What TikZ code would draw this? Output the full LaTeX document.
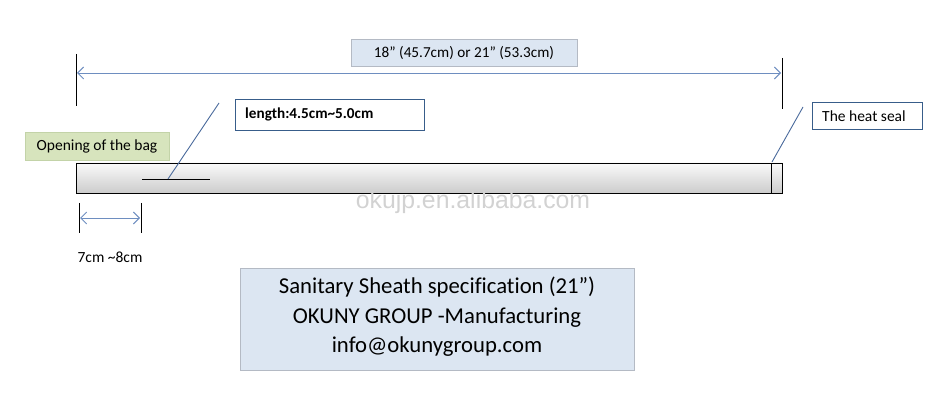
\documentclass[tikz,border=0pt]{standalone}
\usepackage{fontspec}
\setmainfont{Carlito}[Ligatures={TeX,NoCommon}]
\newfontfamily\wmfont{Liberation Sans}
\usetikzlibrary{arrows.meta}
\definecolor{dimblue}{HTML}{6E8EC0}
\definecolor{callblue}{HTML}{4A6A9C}
\definecolor{boxblue}{HTML}{DCE6F2}
\definecolor{boxgray}{HTML}{B4BAC4}
\definecolor{navyedge}{HTML}{385D8A}
\definecolor{olivefill}{HTML}{D7E4BD}
\definecolor{oliveedge}{HTML}{C3D3A8}
\newcommand{\sq}{\symbol{34}}
\tikzset{
  dimline/.style={draw=dimblue, line width=0.9pt, {Straight Barb[length=6pt,width=12pt]}-{Straight Barb[length=6pt,width=12pt]}},
  tick/.style={draw=black, line width=0.9pt},
  callout/.style={draw=callblue, line width=0.9pt},
  infobox/.style={draw=boxgray, fill=boxblue, line width=0.8pt, inner sep=0pt, align=center},
  whitebox/.style={draw=navyedge, fill=white, line width=0.8pt, inner sep=0pt},
  greenbox/.style={draw=oliveedge, fill=olivefill, line width=0.8pt, inner sep=0pt},
  smalltext/.style={font=\fontsize{15.5}{18}\selectfont, inner sep=0pt},
}
\begin{document}
\begin{tikzpicture}[x=1pt,y=-1pt]
\useasboundingbox (0,0) rectangle (944,403);
% top dimension
\coordinate (tl1) at (76,54); \coordinate (tl2) at (76,106);
\coordinate (tr1) at (782,58); \coordinate (tr2) at (782,109);
\draw[tick] (tl1) -- (tl2);
\draw[tick] (tr1) -- (tr2);
\coordinate (da) at (77,73); \coordinate (db) at (781,73);
\draw[dimline] (da) -- (db);
\node[infobox, minimum width=226pt, minimum height=27pt, font=\fontsize{15.2}{17}\selectfont] (top) at (464,52.5) {18\sq{} (45.7cm) or 21\sq{} (53.3cm)};
% bar
\shade[top color=gray!4, bottom color=gray!40] (76,163) rectangle (782,193);
\node[draw=black, line width=0.9pt, minimum width=706pt, minimum height=30pt, inner sep=0pt] (bar) at (429,178) {};
\coordinate (sealtop) at (771,163); \coordinate (sealbot) at (771,193);
\draw[tick] (sealtop) -- (sealbot);
% length label
\node[whitebox, minimum width=189pt, minimum height=31pt, anchor=north west] (len) at (235,99) {};
\node[anchor=west, smalltext, font=\fontsize{15.2}{18}\selectfont\bfseries] (lentext) at (245,114) {length:4.5cm\textasciitilde 5.0cm};
\coordinate (ls1) at (142,179); \coordinate (ls2) at (210,179);
\draw[tick] (ls1) -- (ls2);
\coordinate (lc1) at (219,103); \coordinate (lc2) at (168,179);
\draw[callout] (lc1) -- (lc2);
% opening of the bag
\node[greenbox, minimum width=144pt, minimum height=28pt, anchor=north west] (open) at (25,132) {};
\node[smalltext] (opentext) at (97,146) {Opening of the bag};
% heat seal
\node[whitebox, minimum width=110pt, minimum height=27pt, anchor=north west] (seal) at (812,102) {};
\node[anchor=west, smalltext] (sealtext) at (822,116) {The heat seal};
\coordinate (hc1) at (803,107); \coordinate (hc2) at (772,162);
\draw[callout] (hc1) -- (hc2);
% watermark
\node[text=gray!35, font=\wmfont\fontsize{24.8}{27}\selectfont] (wm) at (473,202) {okujp.en.alibaba.com};
% small dimension
\coordinate (sa1) at (79,203); \coordinate (sa2) at (79,233);
\coordinate (sb1) at (141,203); \coordinate (sb2) at (141,233);
\draw[tick] (sa1) -- (sa2);
\draw[tick] (sb1) -- (sb2);
\coordinate (sd1) at (80,218); \coordinate (sd2) at (140,218);
\draw[dimline] (sd1) -- (sd2);
\node[smalltext] (small) at (110,257) {7cm \textasciitilde 8cm};
% bottom box
\node[infobox, minimum width=394pt, minimum height=102pt, anchor=north west] (spec) at (240,268) {};
\node[font=\fontsize{22.7}{29.5}\selectfont, align=center, inner sep=0pt] (spectext) at (437,317) {Sanitary Sheath specification (21”)\\OKUNY GROUP -Manufacturing\\info@okunygroup.com};
\end{tikzpicture}
\end{document}
